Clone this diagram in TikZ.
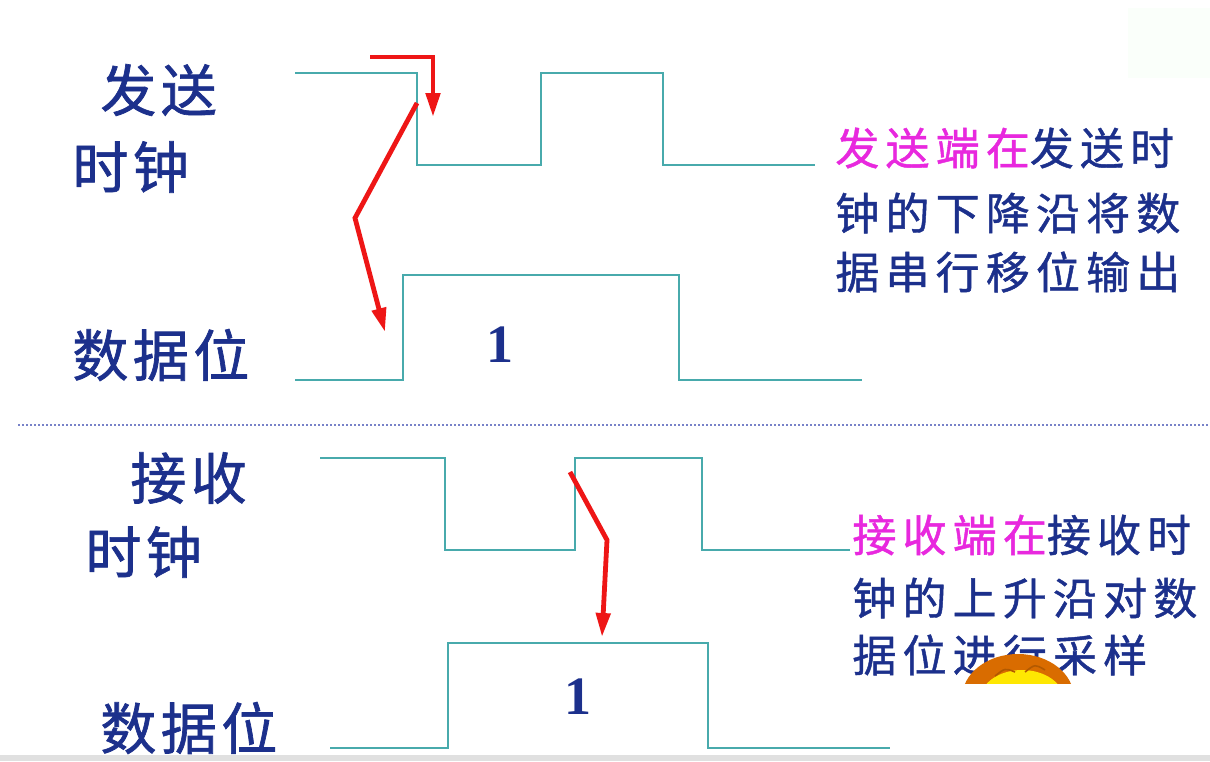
\documentclass[tikz,border=0pt]{standalone}
\usepackage{fontspec}
\usetikzlibrary{arrows.meta}
\newfontfamily\cjklabel[LetterSpace=8,FakeBold=1.2]{Noto Sans CJK SC}
\newfontfamily\cjknote[LetterSpace=14,FakeBold=1]{Noto Sans CJK SC}
\newfontfamily\numfont{Liberation Serif}
\definecolor{wave}{RGB}{72,170,172}
\definecolor{ink}{RGB}{28,48,140}
\definecolor{hot}{RGB}{232,40,222}
\definecolor{mark}{RGB}{238,22,22}
\definecolor{sep}{RGB}{120,130,200}
\begin{document}
\begin{tikzpicture}[x=0.5pt,y=-0.5pt,
  signal/.style={draw=wave,line width=1.2pt,line join=miter},
  cue/.style={draw=mark,line width=2.4pt,line join=miter,
    -{Triangle[length=12pt,width=7pt]}},
  lbl/.style={anchor=west,inner sep=0pt,text=ink,
    font=\cjklabel\fontsize{28}{28}\selectfont},
  note/.style={anchor=west,inner sep=0pt,text=ink,
    font=\cjknote\fontsize{22}{22}\selectfont},
  bit/.style={inner sep=0pt,text=ink,
    font=\numfont\bfseries\fontsize{27}{27}\selectfont}]
\useasboundingbox (0,0) rectangle (1210,761);
\clip (0,0) rectangle (1210,761);
\fill[white] (0,0) rectangle (1210,761);
\fill[green!2!white] (1128,8) rectangle (1210,78);
\fill[black!12] (0,755) rectangle (1210,761);

% sender side: clock and data waveforms
\draw[signal] (295,73) -- (417,73) -- (417,165) -- (541,165) -- (541,73)
  -- (663,73) -- (663,165) -- (815,165);
\draw[signal] (295,380) -- (403,380) -- (403,275) -- (679,275) -- (679,380)
  -- (862,380);
\node[bit] (bitA) at (500,345) {1};

\node[lbl] (sendA) at (100,90) {发送};
\node[lbl] (sendB) at (72,167) {时钟};
\node[lbl] (sendD) at (72,355) {数据位};

\draw[cue] (370,57) -- (433,57) -- (433,117);
\draw[cue] (417,103) -- (355,218) -- (385,332);

\node[note] (txA) at (835,148) {\textcolor{hot}{发送端在}发送时};
\node[note] (txB) at (835,213) {钟的下降沿将数};
\node[note] (txC) at (835,272) {据串行移位输出};

% separator between the two halves
\draw[sep,line width=1pt,dash pattern=on 1.2pt off 0.8pt] (18,425) -- (1210,425);

% receiver side: clock and data waveforms
\draw[signal] (320,458) -- (445,458) -- (445,550) -- (575,550) -- (575,458)
  -- (702,458) -- (702,550) -- (850,550);
\draw[signal] (330,748) -- (448,748) -- (448,643) -- (708,643) -- (708,748)
  -- (890,748);
\node[bit] (bitB) at (578,697) {1};

\node[lbl] (recvA) at (130,478) {接收};
\node[lbl] (recvB) at (85,552) {时钟};
\node[lbl] (recvD) at (100,728) {数据位};

\draw[cue] (570,472) -- (607,540) -- (602,637);

\node[note] (rxA) at (852,535) {\textcolor{hot}{接收端在}接收时};
\node[note] (rxB) at (852,598) {钟的上升沿对数};
\node[note] (rxC) at (852,655) {据位进行采样};

% small sun peeking over the last line
\begin{scope}
  \clip (950,640) rectangle (1090,683);
  \fill[orange!85!black] (1018,698) ellipse (56 and 44);
  \fill[yellow!90!orange] (1022,700) ellipse (42 and 30);
  \draw[orange!70!black,line width=0.8pt] (995,676) .. controls (1005,668) .. (1015,672)
    (1025,672) .. controls (1035,664) .. (1045,670);
\end{scope}
\end{tikzpicture}
\end{document}
